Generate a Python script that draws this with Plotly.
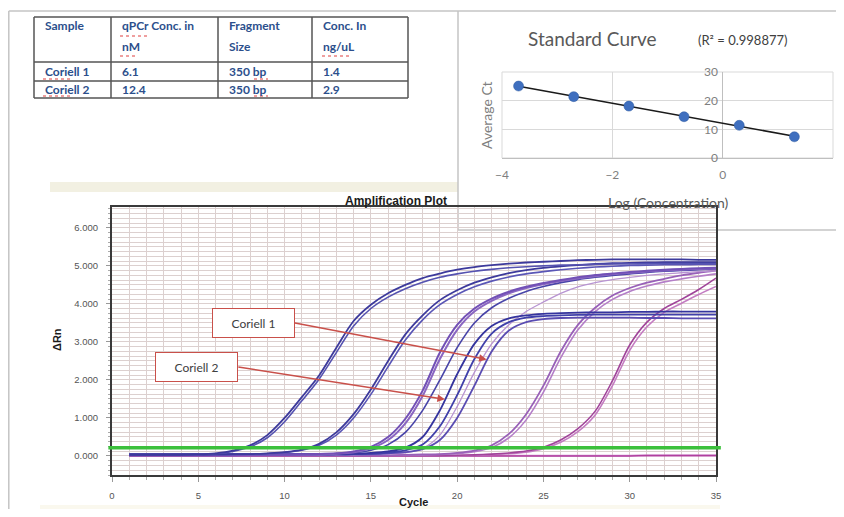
import numpy as np
import plotly.graph_objects as go

# window is 844x517; the page body has an 8px margin, so the figure is 828x501 at (8, 8)
OFF = 8
FIG_W, FIG_H = 844 - 2 * OFF, 517 - 2 * OFF

# ---------------- data ----------------
TABLE_HEADER_1 = ["Sample", "qPCr Conc. in", "Fragment", "Conc. In"]
TABLE_HEADER_2 = ["", "nM", "Size", "ng/uL"]
TABLE_SAMPLE = ["Coriell 1", "Coriell 2"]
TABLE_QPCR = ["6.1", "12.4"]
TABLE_SIZE = ["350 bp", "350 bp"]
TABLE_CONC = ["1.4", "2.9"]

LOG_CONC = [-3.7, -2.7, -1.7, -0.7, 0.3, 1.3]
AVG_CT = [25.1, 21.4, 18.1, 14.4, 11.4, 7.4]
R2_LABEL = "(R² = 0.998877)"

CYCLES = list(range(1, 36))
THRESHOLD = 0.22

A1 = [0.03, 0.03, 0.03, 0.03, 0.04, 0.07, 0.14, 0.28, 0.55, 1.00, 1.55, 2.12, 2.85, 3.55, 3.98,
      4.28, 4.50, 4.68, 4.80, 4.90, 4.97, 5.02, 5.06, 5.09, 5.11, 5.13, 5.15, 5.16, 5.17, 5.17,
      5.17, 5.17, 5.17, 5.16, 5.16]
A2 = [0.03, 0.03, 0.03, 0.03, 0.04, 0.06, 0.12, 0.24, 0.48, 0.90, 1.45, 2.02, 2.72, 3.42, 3.88,
      4.18, 4.40, 4.57, 4.70, 4.79, 4.86, 4.91, 4.95, 4.98, 5.00, 5.02, 5.03, 5.04, 5.05, 5.05,
      5.06, 5.06, 5.06, 5.06, 5.06]
B1 = [0.04, 0.04, 0.04, 0.04, 0.04, 0.04, 0.05, 0.05, 0.07, 0.10, 0.17, 0.32, 0.62, 1.10, 1.75,
      2.50, 3.20, 3.70, 4.10, 4.36, 4.56, 4.70, 4.81, 4.89, 4.95, 4.99, 5.02, 5.05, 5.07, 5.08,
      5.09, 5.10, 5.10, 5.10, 5.10]
B2 = [0.04, 0.04, 0.04, 0.04, 0.04, 0.04, 0.04, 0.05, 0.06, 0.09, 0.15, 0.28, 0.55, 1.00, 1.62,
      2.35, 3.05, 3.58, 3.98, 4.25, 4.45, 4.60, 4.71, 4.79, 4.85, 4.90, 4.94, 4.97, 4.99, 5.01,
      5.02, 5.03, 5.03, 5.04, 5.04]
C1 = [0.02, 0.02, 0.02, 0.02, 0.02, 0.02, 0.02, 0.03, 0.03, 0.03, 0.04, 0.05, 0.07, 0.12, 0.24,
      0.50, 0.98, 1.72, 2.72, 3.45, 3.88, 4.14, 4.32, 4.45, 4.55, 4.63, 4.70, 4.76, 4.80, 4.84,
      4.87, 4.90, 4.92, 4.94, 4.95]
C2 = [0.02, 0.02, 0.02, 0.02, 0.02, 0.02, 0.02, 0.02, 0.03, 0.03, 0.03, 0.04, 0.06, 0.10, 0.20,
      0.42, 0.86, 1.58, 2.55, 3.32, 3.80, 4.08, 4.28, 4.42, 4.52, 4.60, 4.67, 4.73, 4.78, 4.82,
      4.85, 4.88, 4.90, 4.92, 4.93]
C3 = [0.04, 0.04, 0.04, 0.04, 0.04, 0.04, 0.04, 0.04, 0.04, 0.04, 0.05, 0.05, 0.06, 0.08, 0.15,
      0.30, 0.62, 1.20, 2.00, 2.85, 3.50, 3.90, 4.15, 4.33, 4.46, 4.56, 4.64, 4.70, 4.75, 4.79,
      4.83, 4.86, 4.88, 4.90, 4.92]
D1 = [0.04, 0.04, 0.04, 0.04, 0.04, 0.04, 0.04, 0.04, 0.04, 0.04, 0.04, 0.04, 0.05, 0.06, 0.08,
      0.12, 0.22, 0.50, 1.20, 2.15, 2.95, 3.42, 3.62, 3.70, 3.74, 3.76, 3.77, 3.78, 3.78, 3.79,
      3.79, 3.80, 3.80, 3.80, 3.80]
D2 = [0.04, 0.04, 0.04, 0.04, 0.04, 0.04, 0.04, 0.04, 0.04, 0.04, 0.04, 0.04, 0.04, 0.05, 0.06,
      0.09, 0.15, 0.30, 0.78, 1.60, 2.55, 3.22, 3.52, 3.64, 3.68, 3.70, 3.71, 3.72, 3.72, 3.72,
      3.72, 3.72, 3.72, 3.72, 3.72]
D3 = [0.04, 0.04, 0.04, 0.04, 0.04, 0.04, 0.04, 0.04, 0.04, 0.04, 0.04, 0.04, 0.04, 0.04, 0.05,
      0.07, 0.10, 0.18, 0.42, 1.00, 1.85, 2.75, 3.30, 3.52, 3.60, 3.63, 3.64, 3.64, 3.64, 3.64,
      3.63, 3.63, 3.62, 3.62, 3.62]
E1 = [0.02, 0.02, 0.02, 0.02, 0.02, 0.02, 0.02, 0.02, 0.02, 0.02, 0.02, 0.02, 0.03, 0.03, 0.04,
      0.05, 0.08, 0.20, 0.55, 1.30, 2.20, 2.95, 3.45, 3.80, 4.05, 4.28, 4.45, 4.56, 4.64, 4.70,
      4.75, 4.79, 4.82, 4.85, 4.87]
F1 = [0.02, 0.02, 0.02, 0.02, 0.02, 0.02, 0.02, 0.02, 0.02, 0.02, 0.02, 0.02, 0.02, 0.02, 0.02,
      0.02, 0.03, 0.04, 0.05, 0.08, 0.14, 0.28, 0.58, 1.10, 1.85, 2.75, 3.45, 3.90, 4.22, 4.42,
      4.56, 4.66, 4.75, 4.82, 4.88]
F2 = [0.02, 0.02, 0.02, 0.02, 0.02, 0.02, 0.02, 0.02, 0.02, 0.02, 0.02, 0.02, 0.02, 0.02, 0.02,
      0.02, 0.02, 0.03, 0.04, 0.06, 0.11, 0.22, 0.48, 0.95, 1.68, 2.58, 3.32, 3.80, 4.12, 4.33,
      4.47, 4.58, 4.66, 4.73, 4.79]
G1 = [0.01, 0.01, 0.01, 0.01, 0.01, 0.01, 0.01, 0.01, 0.01, 0.01, 0.01, 0.01, 0.01, 0.01, 0.01,
      0.01, 0.01, 0.01, 0.01, 0.02, 0.03, 0.05, 0.08, 0.13, 0.23, 0.42, 0.72, 1.18, 1.98, 2.92,
      3.52, 3.88, 4.12, 4.38, 4.68]
G2 = [0.01, 0.01, 0.01, 0.01, 0.01, 0.01, 0.01, 0.01, 0.01, 0.01, 0.01, 0.01, 0.01, 0.01, 0.01,
      0.01, 0.01, 0.01, 0.01, 0.01, 0.02, 0.04, 0.06, 0.10, 0.19, 0.36, 0.64, 1.08, 1.85, 2.78,
      3.40, 3.78, 4.02, 4.25, 4.46]
NTC1 = [0.00, 0.00, 0.00, 0.00, 0.00, 0.00, 0.00, 0.00, 0.00, 0.00, 0.00, 0.00, 0.00, 0.00, 0.00,
        0.00, 0.00, 0.00, 0.00, 0.00, 0.00, 0.00, 0.00, 0.00, 0.00, 0.00, 0.00, 0.00, 0.00, 0.00,
        0.01, 0.01, 0.01, 0.01, 0.01]
NTC2 = [0.01, 0.01, 0.01, 0.01, 0.01, 0.01, 0.01, 0.01, 0.01, 0.01, 0.01, 0.01, 0.01, 0.01, 0.01,
        0.01, 0.01, 0.01, 0.01, 0.01, 0.01, 0.01, 0.01, 0.01, 0.01, 0.01, 0.01, 0.01, 0.01, 0.01,
        0.02, 0.02, 0.02, 0.02, 0.02]

CURVES = [
    (NTC2, "#d08ad0", 1.6), (NTC1, "#b0409e", 1.6),
    (G2, "#c47cc2", 1.6), (G1, "#a0449a", 1.6),
    (F2, "#b47ec8", 1.6), (F1, "#9860b8", 1.8),
    (E1, "#b894d2", 1.3),
    (D3, "#5a4cb2", 1.8), (D2, "#4040aa", 1.8), (D1, "#35349e", 1.8),
    (C3, "#4844a8", 1.6), (C2, "#8a66c2", 2.0), (C1, "#7250b6", 2.0),
    (B2, "#5a56b6", 1.6), (B1, "#3d3a9c", 1.8),
    (A2, "#5552b0", 1.6), (A1, "#3d3a9c", 1.8),
]


def px(x):
    """window pixel x -> paper fraction"""
    return (x - OFF) / FIG_W


def py(y):
    """window pixel y -> paper fraction"""
    return 1 - (y - OFF) / FIG_H


fig = go.Figure()

# ---------------- amplification curves ----------------
for vals, col, w in CURVES:
    fig.add_trace(go.Scatter(x=CYCLES, y=vals, mode="lines", xaxis="x", yaxis="y",
                             line=dict(color=col, width=w, shape="spline", smoothing=0.8),
                             hoverinfo="skip", showlegend=False))

# ---------------- standard curve ----------------
slope, intercept = np.polyfit(LOG_CONC, AVG_CT, 1)
fit_x = [min(LOG_CONC), max(LOG_CONC)]
fit_y = [slope * v + intercept for v in fit_x]
fig.add_trace(go.Scatter(x=fit_x, y=fit_y, mode="lines", xaxis="x2", yaxis="y2",
                         line=dict(color="#1a1a1a", width=1.6), showlegend=False, hoverinfo="skip"))
fig.add_trace(go.Scatter(x=LOG_CONC, y=AVG_CT, mode="markers", xaxis="x2", yaxis="y2",
                         marker=dict(color="#3f6fbf", size=10, line=dict(color="#2f5aa0", width=0.5)),
                         showlegend=False, hoverinfo="skip"))

GRID = "#dcd0cf"
TICKFONT = dict(family="Liberation Sans", size=9.5, color="#555555")
fig.update_layout(
    width=FIG_W, height=FIG_H, autosize=False,
    margin=dict(l=0, r=0, t=0, b=0, pad=0),
    paper_bgcolor="white", plot_bgcolor="white",
    showlegend=False,
    xaxis=dict(domain=[px(112), px(716)], range=[0, 35], anchor="y",
               showline=True, mirror=True, linecolor="#3a3a3a", linewidth=2,
               showgrid=True, gridcolor=GRID, gridwidth=1, zeroline=False,
               tick0=0, dtick=5, ticks="outside", ticklen=5, tickcolor="#999999",
               tickfont=TICKFONT, ticklabelstandoff=6, automargin=False,
               minor=dict(dtick=1, showgrid=True, gridcolor=GRID, ticks="outside",
                          ticklen=3, tickcolor="#aaaaaa")),
    yaxis=dict(domain=[py(475), py(207)], range=[-0.5, 6.55], anchor="x",
               showline=True, mirror=True, linecolor="#3a3a3a", linewidth=2,
               showgrid=True, gridcolor=GRID, gridwidth=1, zeroline=False,
               tick0=0, dtick=1, tickformat=".3f", ticks="outside", ticklen=4, tickcolor="#999999",
               tickfont=TICKFONT, ticklabelstandoff=6, automargin=False,
               minor=dict(dtick=0.125, showgrid=True, gridcolor=GRID, ticks="outside",
                          ticklen=2, tickcolor="#aaaaaa")),
    xaxis2=dict(domain=[px(502), px(833)], range=[-4, 2], anchor="y2",
                dtick=2, showgrid=True, gridcolor="#d9d9d9", showline=False,
                zeroline=True, zerolinecolor="#bfbfbf", zerolinewidth=1,
                ticks="", ticklabelstandoff=8, automargin=False,
                tickfont=dict(family="Lato", size=12, color="#7f7f7f")),
    yaxis2=dict(domain=[py(158), py(72)], range=[0, 30], anchor="free", position=px(722),
                dtick=10, showgrid=True, gridcolor="#d9d9d9", showline=False,
                zeroline=True, zerolinecolor="#bfbfbf", zerolinewidth=1,
                ticks="", ticklabelstandoff=4, automargin=False,
                tickfont=dict(family="Lato", size=12, color="#7f7f7f")),
)

# ---------------- table geometry ----------------
COL_EDGES = [34, 111, 218, 312, 408]
ROW_EDGES = [17, 62, 81, 98]


def dx(x):
    """window pixel x -> inset x domain fraction"""
    return (x - 502) / 331


def dy(y):
    """window pixel y -> inset y domain fraction"""
    return (158 - y) / 86


BORDER = dict(color="#c4c4c4", width=1.5)
shapes = [
    # outer page frame
    dict(type="line", xref="paper", yref="paper", x0=px(8.8), x1=1, y0=py(11), y1=py(11),
         line=BORDER, layer="below"),
    dict(type="line", xref="paper", yref="paper", x0=px(8.8), x1=px(8.8), y0=py(11), y1=0,
         line=BORDER, layer="below"),
    # faint beige bars
    dict(type="rect", xref="paper", yref="paper", x0=px(50), x1=px(460), y0=py(192), y1=py(182),
         fillcolor="#f2f0e2", line=dict(width=0), layer="below"),
    dict(type="rect", xref="paper", yref="paper", x0=px(40), x1=px(720), y0=py(509), y1=py(505),
         fillcolor="#faf8ee", line=dict(width=0), layer="below"),
    # inset panel (drawn in the inset subplot so it covers the amplification plot beneath)
    dict(type="rect", xref="x2 domain", yref="y2 domain",
         x0=dx(458), x1=dx(836), y0=dy(230), y1=dy(12),
         fillcolor="white", line=dict(width=0), layer="below"),
    dict(type="line", xref="x2 domain", yref="y2 domain", x0=dx(458), x1=dx(458),
         y0=dy(230), y1=dy(11), line=BORDER, layer="below"),
    dict(type="line", xref="x2 domain", yref="y2 domain", x0=dx(458), x1=dx(836),
         y0=dy(230), y1=dy(230), line=BORDER, layer="below"),
    dict(type="rect", xref="x2 domain", yref="y2 domain", x0=0, x1=1, y0=0, y1=1,
         fillcolor="rgba(0,0,0,0)", line=dict(color="#d9d9d9", width=1), layer="below"),
    # threshold line
    dict(type="line", xref="x domain", yref="y", x0=-0.006, x1=1.008, y0=THRESHOLD, y1=THRESHOLD,
         line=dict(color="#3cc03c", width=3.5), layer="above"),
]
TLINE = dict(color="#555555", width=1.5)
for cx in COL_EDGES:
    shapes.append(dict(type="line", xref="paper", yref="paper", x0=px(cx), x1=px(cx),
                       y0=py(ROW_EDGES[0]), y1=py(ROW_EDGES[-1]), line=TLINE))
for ry in ROW_EDGES:
    shapes.append(dict(type="line", xref="paper", yref="paper", x0=px(COL_EDGES[0]),
                       x1=px(COL_EDGES[-1]), y0=py(ry), y1=py(ry), line=TLINE))
# spell-check squiggles under some words
SQUIGGLES = [(120, 148, 36), (120, 136, 56), (322, 352, 56), (43, 72, 79), (43, 72, 96),
             (254, 268, 79), (254, 268, 96)]
for x0, x1, yy in SQUIGGLES:
    shapes.append(dict(type="line", xref="paper", yref="paper", x0=px(x0), x1=px(x1),
                       y0=py(yy), y1=py(yy), line=dict(color="#e04040", width=1.2, dash="dot")))


def pa(text, x, y, size, color, family="Lato", xanchor="center", angle=0, weight="normal"):
    return dict(text=text, x=px(x), y=py(y), xref="paper", yref="paper", showarrow=False,
                xanchor=xanchor, yanchor="middle", textangle=angle,
                font=dict(family=family, size=size, color=color, weight=weight))


TBLUE = "#2c4f8c"
annotations = []
for i in range(4):
    tx = COL_EDGES[i] + 9
    annotations.append(pa(TABLE_HEADER_1[i], tx, 26, 12, TBLUE, xanchor="left", weight="bold"))
    if TABLE_HEADER_2[i]:
        annotations.append(pa(TABLE_HEADER_2[i], tx, 46, 12, TBLUE, xanchor="left", weight="bold"))
for col_i, col_vals in enumerate([TABLE_SAMPLE, TABLE_QPCR, TABLE_SIZE, TABLE_CONC]):
    for row_i, v in enumerate(col_vals):
        cy = (ROW_EDGES[row_i + 1] + ROW_EDGES[row_i + 2]) / 2
        annotations.append(pa(v, COL_EDGES[col_i] + 9, cy, 12, TBLUE, xanchor="left", weight="bold"))

annotations += [
    pa("Standard Curve", 592, 39, 19, "#595959"),
    pa(R2_LABEL, 742, 40, 13, "#404040"),
    pa("Average Ct", 487, 115, 14, "#7f7f7f", angle=-90),
    pa("Log (Concentration)", 668, 202, 14, "#595959"),
    pa("Amplification Plot", 449, 201, 12, "#1a1a1a", family="Liberation Sans",
       xanchor="right", weight="bold"),
    pa("ΔRn", 57, 340, 11, "#1a1a1a", family="Liberation Sans", angle=-90, weight="bold"),
    pa("Cycle", 413, 502, 11, "#1a1a1a", family="Liberation Sans", weight="bold"),
    dict(text="Coriell 1", x=21.71, y=2.54, xref="x", yref="y", ax=10.6, ay=3.5,
         axref="x", ayref="y", xanchor="right", showarrow=True, arrowhead=2, arrowsize=1,
         arrowwidth=1.5, arrowcolor="#c9504a", bgcolor="white", bordercolor="#c9504a",
         borderwidth=1, borderpad=1, width=79, height=26,
         font=dict(family="Lato", size=12, color="#404040")),
    dict(text="Coriell 2", x=19.29, y=1.49, xref="x", yref="y", ax=7.32, ay=2.34,
         axref="x", ayref="y", xanchor="right", showarrow=True, arrowhead=2, arrowsize=1,
         arrowwidth=1.5, arrowcolor="#c9504a", bgcolor="white", bordercolor="#c9504a",
         borderwidth=1, borderpad=1, width=79, height=26,
         font=dict(family="Lato", size=12, color="#404040")),
]

fig.update_layout(shapes=shapes, annotations=annotations)
fig.write_html("out.html")
